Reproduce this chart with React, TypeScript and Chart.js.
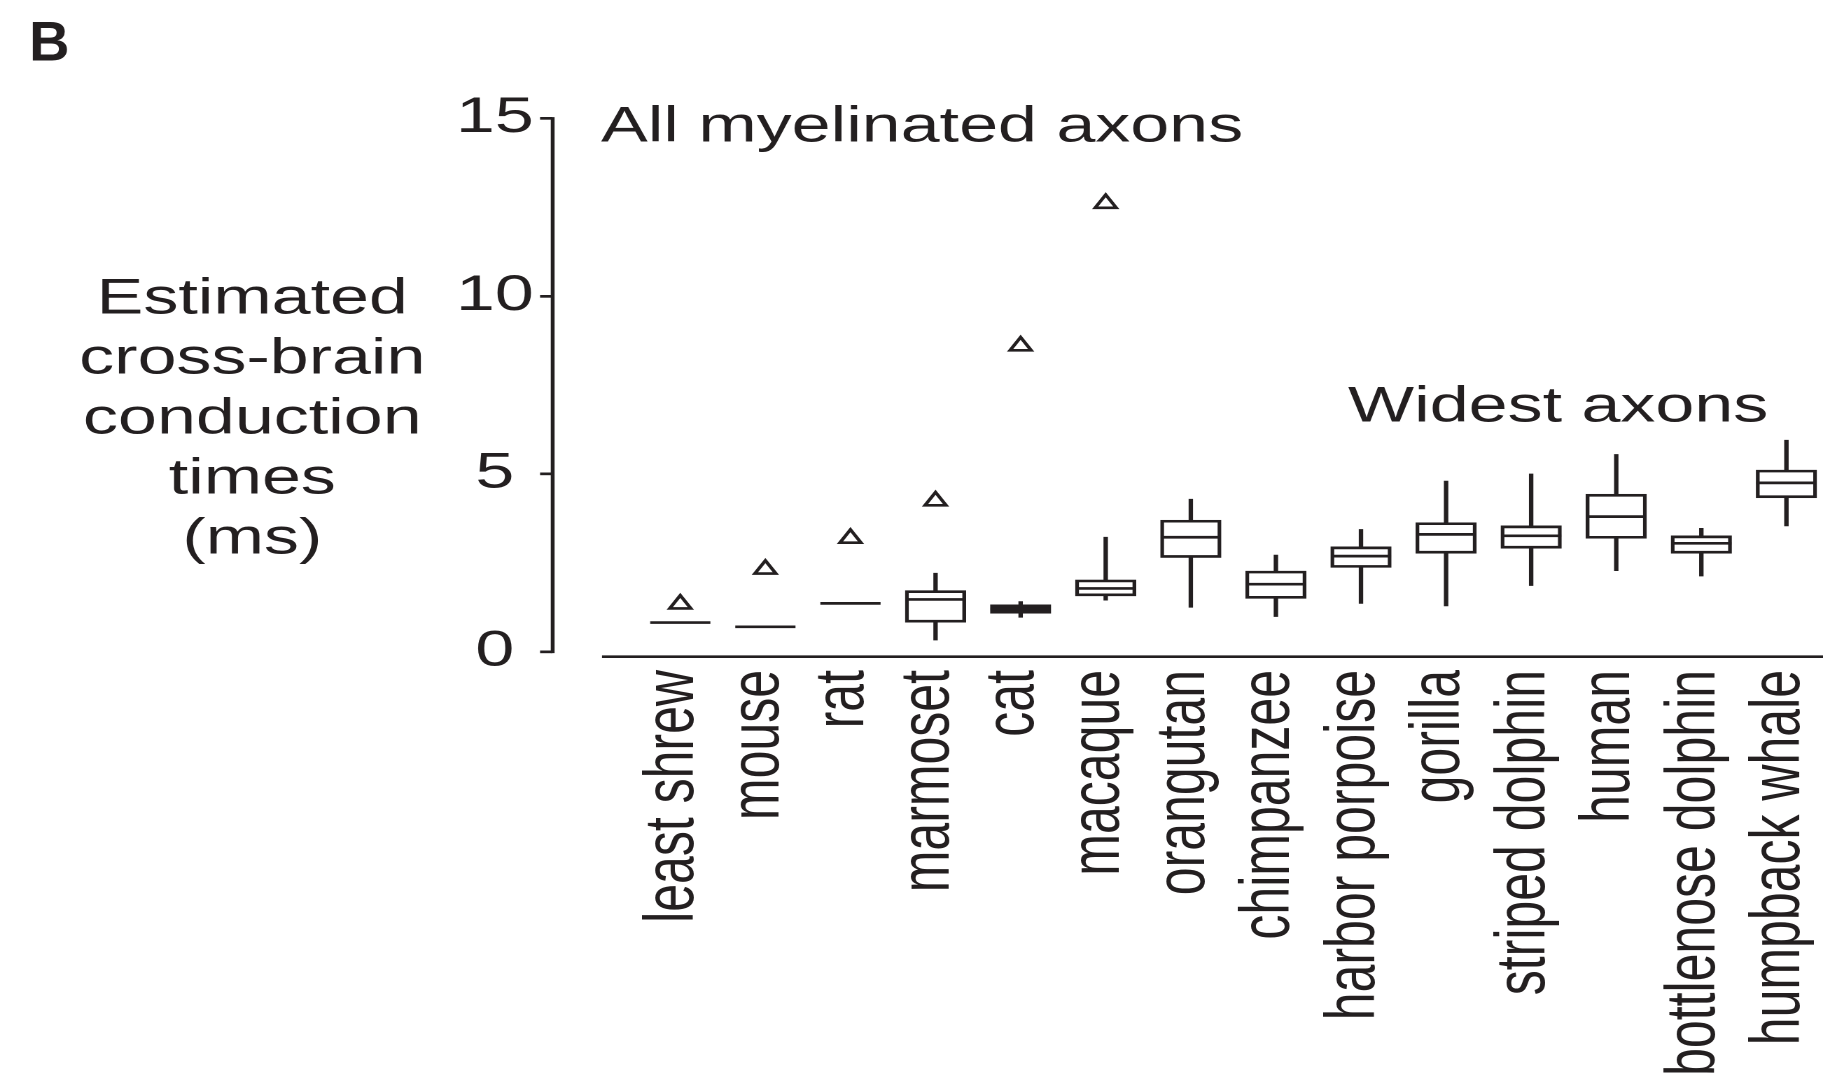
import React, { useEffect, useRef } from 'react';
import { Chart, registerables } from 'chart.js';

Chart.register(...registerables);

// ---------- data ----------
const categories = [
  'least shrew', 'mouse', 'rat', 'marmoset', 'cat', 'macaque', 'orangutan',
  'chimpanzee', 'harbor porpoise', 'gorilla', 'striped dolphin', 'human',
  'bottlenose dolphin', 'humpback whale',
];
const medians = [0.82, 0.70, 1.36, 1.47, 1.20, 1.78, 3.22, 1.90, 2.69, 3.30, 3.26, 3.80, 3.05, 4.75];
const q1 = [null, null, null, 0.83, 1.08, 1.57, 2.65, 1.50, 2.37, 2.77, 2.91, 3.19, 2.77, 4.33];
const q3 = [null, null, null, 1.72, 1.32, 2.02, 3.70, 2.27, 2.95, 3.63, 3.54, 4.43, 3.26, 5.11];
const whiskerLow = [null, null, null, 0.33, 0.97, 1.45, 1.25, 0.99, 1.36, 1.29, 1.86, 2.28, 2.13, 3.54];
const whiskerHigh = [null, null, null, 2.21, 1.41, 3.22, 4.29, 2.72, 3.44, 4.80, 5.00, 5.55, 3.47, 5.95];
// "All myelinated axons" estimates (triangles), first six species
const allAxons = [1.34, 2.32, 3.19, 4.24, 8.60, 12.61];
const yTicks = [0, 5, 10, 15];
const yTitleLines = ['Estimated', 'cross-brain', 'conduction', 'times', '(ms)'];

// ---------- layout / style ----------
const FULL_W = 1823;
const FULL_H = 1079;
const LOGICAL_W = 1302; // figure is horizontally stretched
const STRETCH = FULL_W / LOGICAL_W;
const INK = '#231f20';
const FONT = '"Liberation Sans", Arial, Helvetica, sans-serif';
const LINE_W = 2.7;
const Y_MIN = -0.14;
const Y_MAX = 15;
const X_MIN = -1.5;
const X_MAX = 13.43;
const X_AXIS_START = -0.92;

const decorPlugin = {
  id: 'decor',
  afterDraw(chart: any) {
    const { ctx, chartArea, scales } = chart;
    const xs = scales.x;
    const ys = scales.y;
    ctx.save();
    ctx.strokeStyle = INK;
    ctx.fillStyle = INK;
    ctx.lineWidth = LINE_W;
    ctx.lineCap = 'butt';
    // y axis line from 0 to 15
    ctx.beginPath();
    ctx.moveTo(chartArea.left, ys.getPixelForValue(Y_MAX) - LINE_W / 2);
    ctx.lineTo(chartArea.left, ys.getPixelForValue(0) + LINE_W / 2);
    ctx.stroke();
    // x axis line (offset)
    ctx.beginPath();
    ctx.moveTo(xs.getPixelForValue(X_AXIS_START), chartArea.bottom);
    ctx.lineTo(chartArea.right, chartArea.bottom);
    ctx.stroke();

    // category labels, rotated
    ctx.font = `50px ${FONT}`;
    ctx.textAlign = 'right';
    ctx.textBaseline = 'alphabetic';
    categories.forEach((c, i) => {
      const x = xs.getPixelForValue(i);
      ctx.save();
      ctx.translate(x + 9.3, chartArea.bottom + 13.3);
      ctx.rotate(-Math.PI / 2);
      ctx.fillText(c, 0, 0);
      ctx.restore();
    });

    // annotations
    ctx.textAlign = 'left';
    ctx.fillText('All myelinated axons', 429.3, 141.7);
    ctx.fillText('Widest axons', 962.8, 421.7);

    // y title
    ctx.textAlign = 'center';
    yTitleLines.forEach((t, i) => {
      ctx.fillText(t, 180.2, 313.3 + i * 60);
    });

    // panel letter (not stretched)
    ctx.save();
    ctx.scale(1 / STRETCH, 1);
    ctx.font = `bold 56px ${FONT}`;
    ctx.textAlign = 'left';
    ctx.fillText('B', 29, 60.7);
    ctx.restore();

    ctx.restore();
  },
};

const idx = categories.map((_, i) => i);
const boxIdx = idx.filter((i) => q1[i] != null);

export default function App() {
  const ref = useRef<HTMLCanvasElement>(null);
  useEffect(() => {
    document.body.style.margin = '0';
    document.body.style.overflow = 'hidden';
    const canvas = ref.current;
    if (!canvas) return;
    const chart = new Chart(canvas, {
      type: 'bar',
      data: {
        datasets: [
          {
            type: 'bar',
            label: 'whiskers',
            data: idx.filter((i) => whiskerLow[i] != null).map((i) => ({ x: i, y: [whiskerLow[i], whiskerHigh[i]] })) as any,
            backgroundColor: INK,
            borderWidth: 0,
            barThickness: 2.5,
            grouped: false,
            order: 4,
          },
          {
            type: 'bar',
            label: 'boxes',
            data: boxIdx.map((i) => ({ x: i, y: [q1[i], q3[i]] })) as any,
            // very narrow boxes render as solid black bars in the original
            backgroundColor: boxIdx.map((i) => ((q3[i] as number) - (q1[i] as number) < 0.3 ? INK : '#ffffff')),
            borderColor: INK,
            borderWidth: LINE_W,
            borderSkipped: false,
            barThickness: 43,
            grouped: false,
            order: 3,
          },
          {
            type: 'line',
            label: 'medians',
            data: idx.map((i) => ({ x: i, y: medians[i] })),
            showLine: false,
            pointStyle: 'line',
            pointRadius: 21.5,
            pointHoverRadius: 21.5,
            pointBorderWidth: LINE_W,
            pointHoverBorderWidth: LINE_W,
            pointBorderColor: INK,
            pointBackgroundColor: INK,
            clip: false,
            order: 2,
          } as any,
          {
            type: 'line',
            label: 'all myelinated',
            data: allAxons.map((v, i) => ({ x: i, y: v })),
            showLine: false,
            pointStyle: 'triangle',
            pointRadius: 8.7,
            pointHoverRadius: 8.7,
            pointBorderWidth: 2.6,
            pointHoverBorderWidth: 2.6,
            pointBorderColor: INK,
            pointBackgroundColor: '#ffffff',
            clip: false,
            order: 1,
          } as any,
        ],
      },
      options: {
        responsive: false,
        animation: false,
        devicePixelRatio: 2,
        events: [],
        layout: {
          autoPadding: false,
          padding: { left: 274.7, right: 0, top: 118.45, bottom: FULL_H - 656.7 },
        },
        plugins: { legend: { display: false }, tooltip: { enabled: false }, title: { display: false } },
        scales: {
          x: {
            type: 'linear',
            display: false,
            min: X_MIN,
            max: X_MAX,
            offset: false,
            grid: { display: false, offset: false },
          },
          y: {
            type: 'linear',
            min: Y_MIN,
            max: Y_MAX,
            border: { display: false },
            grid: {
              display: true,
              drawOnChartArea: false,
              drawTicks: true,
              tickLength: 9,
              tickColor: INK,
              lineWidth: LINE_W,
            },
            ticks: {
              color: INK,
              font: { family: FONT, size: 50 },
              padding: 4.5,
              crossAlign: 'center',
              autoSkip: false,
            },
            afterBuildTicks: (scale: any) => {
              scale.ticks = yTicks.map((v) => ({ value: v }));
            },
            afterFit: (scale: any) => {
              scale.width = 120;
            },
          },
        },
      } as any,
      plugins: [decorPlugin],
    });
    return () => chart.destroy();
  }, []);
  return (
    <canvas
      ref={ref}
      width={LOGICAL_W}
      height={FULL_H}
      style={{ display: 'block', width: `${FULL_W}px`, height: `${FULL_H}px` }}
    />
  );
}
